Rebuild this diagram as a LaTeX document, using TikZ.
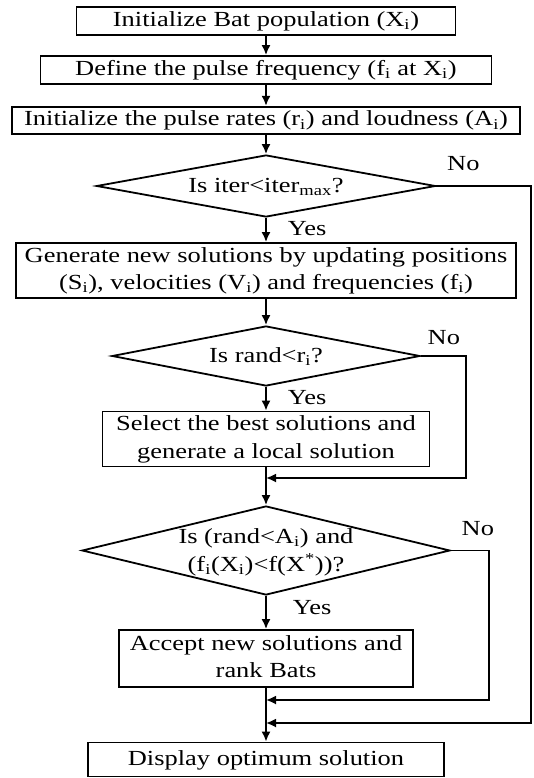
\documentclass[tikz,border=0pt]{standalone}
\usepackage{fontspec}
\setmainfont{Liberation Serif}
\usepackage{graphicx}
\usetikzlibrary{shapes.geometric, arrows.meta}
\setlength{\tabcolsep}{0pt}
\newcommand{\wide}[1]{\scalebox{1.23}[1]{\begin{tabular}{c}#1\end{tabular}}}
\newcommand{\dtext}[1]{\makebox[0pt]{\raisebox{-0.3em}[0pt][0pt]{\wide{#1}}}}

\tikzset{
    block/.style={draw, rectangle, line width=1.8pt, inner sep=0pt},
    decision/.style={draw, diamond, line width=1.8pt, inner sep=0pt},
    flow/.style={->, line width=1.8pt},
    answer/.style={inner sep=0pt}
}

\begin{document}
\begin{tikzpicture}[x=1pt,y=-1pt,>={Latex[length=10pt,width=9pt]},font=\fontsize{21.5}{27.5}\selectfont]
            \useasboundingbox (0,0) rectangle (534,778);

            % the steps
            \node[block, minimum width=379pt, minimum height=28pt] (init) at (266,21) {\wide{Initialize Bat population (X\textsubscript{i})}};
            \node[block, minimum width=451pt, minimum height=28pt] (freq) at (266,70) {\wide{Define the pulse frequency (f\textsubscript{i} at X\textsubscript{i})}};
            \node[block, minimum width=508pt, minimum height=27pt] (rates) at (266,120.5) {\wide{Initialize the pulse rates (r\textsubscript{i}) and loudness (A\textsubscript{i})}};
            \node[decision, minimum width=339pt, minimum height=62pt] (iter) at (266,186) {\dtext{Is iter<iter\textsubscript{max}?}};
            \node[block, minimum width=500pt, minimum height=51pt] (update) at (266,270.5) {\wide{Generate new solutions by updating positions\\(S\textsubscript{i}), velocities (V\textsubscript{i}) and frequencies (f\textsubscript{i})}};
            \node[decision, minimum width=308pt, minimum height=60pt] (rand) at (266,356) {\dtext{Is rand<r\textsubscript{i}?}};
            \node[block, minimum width=327pt, minimum height=52pt] (local) at (266,439) {\wide{Select the best solutions and\\generate a local solution}};
            \node[decision, minimum width=368pt, minimum height=89pt] (loud) at (266,550.5) {\dtext{Is (rand<A\textsubscript{i}) and\\(f\textsubscript{i}(X\textsubscript{i})<f(X\textsuperscript{*}))?}};
            \node[block, minimum width=294pt, minimum height=57pt] (accept) at (266,658.5) {\wide{Accept new solutions and\\rank Bats}};
            \node[block, minimum width=356pt, minimum height=34pt] (best) at (266,759.5) {\wide{Display optimum solution}};

            % where the loops come back
            \coordinate (m1) at (266,478);
            \coordinate (m2) at (266,700);
            \coordinate (m3) at (266,723);
            \coordinate (r1) at (466,0);
            \coordinate (r2) at (489,0);
            \coordinate (r3) at (531,0);

            % main line
            \draw[flow] (init) -- (freq);
            \draw[flow] (freq) -- (rates);
            \draw[flow] (rates) -- (iter);
            \draw[flow] (iter) -- node[answer, right=21pt] {\wide{Yes}} (update);
            \draw[flow] (update) -- (rand);
            \draw[flow] (rand) -- node[answer, right=21pt] {\wide{Yes}} (local);
            \draw[flow] (local) -- (loud);
            \draw[flow] (loud) -- node[answer, right=26pt, yshift=4pt] {\wide{Yes}} (accept);
            \draw[flow] (accept) -- (best);

            % the No branches
            \draw[flow] (iter.east) node[answer, xshift=27pt, yshift=21pt] {\wide{No}} -- (iter.east -| r3) |- (m3);
            \draw[flow] (rand.east) node[answer, xshift=23pt, yshift=17pt] {\wide{No}} -- (rand.east -| r1) |- (m1);
            \draw[flow] (loud.east) node[answer, xshift=27pt, yshift=21pt] {\wide{No}} -- (loud.east -| r2) |- (m2);
\end{tikzpicture}
\end{document}
